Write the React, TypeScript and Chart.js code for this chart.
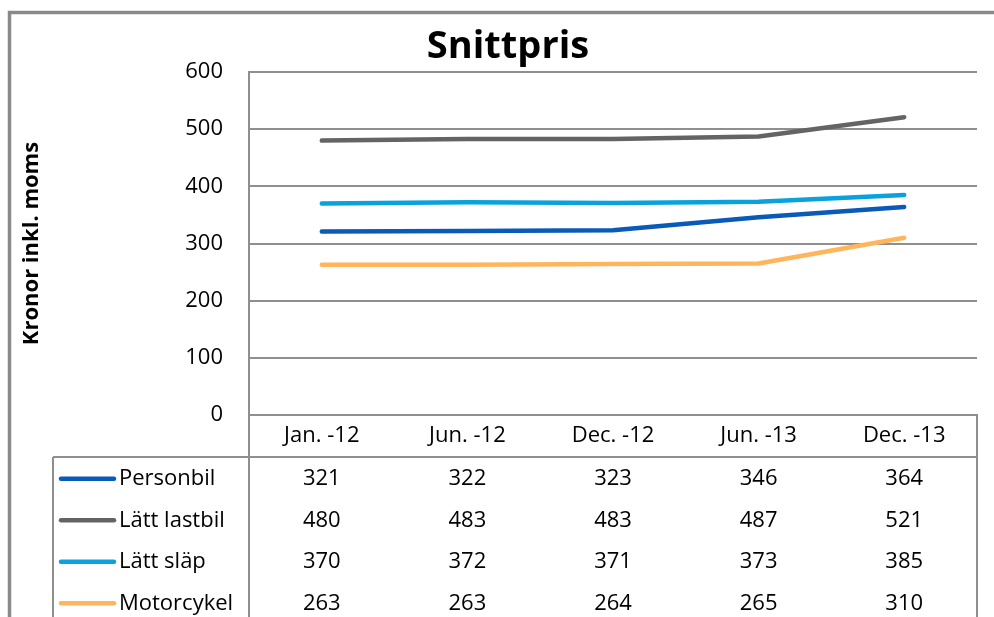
import React, { useEffect, useRef } from "react";
import { Chart, registerables } from "chart.js";

Chart.register(...registerables);

const chartTitle = "Snittpris";
const yAxisTitle = "Kronor inkl. moms";
const categories = ["Jan. -12", "Jun. -12", "Dec. -12", "Jun. -13", "Dec. -13"];
const seriesNames = ["Personbil", "Lätt lastbil", "Lätt släp", "Motorcykel"];
const personbil = [321, 322, 323, 346, 364];
const lattLastbil = [480, 483, 483, 487, 521];
const lattSlap = [370, 372, 371, 373, 385];
const motorcykel = [263, 263, 264, 265, 310];
const seriesColors = ["#0A5AB8", "#646464", "#0AA2DC", "#FFB55C"];
const yTicks = [0, 100, 200, 300, 400, 500, 600];

const FONT = "'Open Sans'";
const GRID = "#8f8f8f";

const tablePlugin = {
  id: "dataTable",
  beforeDraw(chart: any) {
    const ctx = chart.ctx;
    ctx.save();
    ctx.fillStyle = "#ffffff";
    ctx.fillRect(0, 0, chart.width, chart.height);
    ctx.strokeStyle = "#8a8a8a";
    ctx.lineWidth = 3.5;
    ctx.beginPath();
    ctx.moveTo(9.5, chart.height + 5);
    ctx.lineTo(9.5, 12.5);
    ctx.lineTo(chart.width + 5, 12.5);
    ctx.stroke();
    // chart title
    ctx.fillStyle = "#000";
    ctx.font = `bold 38px ${FONT}`;
    ctx.textAlign = "center";
    ctx.textBaseline = "alphabetic";
    ctx.fillText(chartTitle, 508, 58);
    ctx.restore();
  },
  afterDraw(chart: any) {
    const ctx = chart.ctx;
    const area = chart.chartArea;
    const xs = chart.scales.x;
    const headerBottom = xs.bottom;
    const rowH = 41.5;
    const legendLeft = 53;
    const bottom = chart.height + 5;
    const data = chart.data.datasets;
    ctx.save();
    ctx.strokeStyle = GRID;
    ctx.lineWidth = 2;
    ctx.beginPath();
    ctx.moveTo(legendLeft, headerBottom);
    ctx.lineTo(area.right, headerBottom);
    ctx.moveTo(legendLeft, headerBottom);
    ctx.lineTo(legendLeft, bottom);
    ctx.moveTo(area.left, area.bottom);
    ctx.lineTo(area.left, bottom);
    ctx.moveTo(area.right, area.bottom);
    ctx.lineTo(area.right, bottom);
    ctx.stroke();

    ctx.font = `22px ${FONT}`;
    ctx.textBaseline = "middle";
    data.forEach((ds: any, i: number) => {
      const cy = headerBottom + rowH * (i + 0.5) + 1;
      ctx.strokeStyle = ds.borderColor;
      ctx.lineWidth = 4.5;
      ctx.lineCap = "round";
      ctx.beginPath();
      ctx.moveTo(61, cy);
      ctx.lineTo(114, cy);
      ctx.stroke();
      ctx.fillStyle = "#000";
      ctx.textAlign = "left";
      ctx.fillText(ds.label, 119, cy);
      ctx.textAlign = "center";
      ds.data.forEach((v: number, j: number) => {
        ctx.fillText(String(v), xs.getPixelForValue(j), cy);
      });
    });
    ctx.restore();
  },
};

export default function App() {
  const ref = useRef<HTMLCanvasElement>(null);
  useEffect(() => {
    const values = [personbil, lattLastbil, lattSlap, motorcykel];
    const chart = new Chart(ref.current!, {
      type: "line",
      data: {
        labels: categories,
        datasets: values.map((d, i) => ({
          label: seriesNames[i],
          data: d,
          borderColor: seriesColors[i],
          backgroundColor: seriesColors[i],
          borderWidth: 4.5,
          borderCapStyle: "round",
          borderJoinStyle: "round",
          pointRadius: 0,
          tension: 0,
          fill: false,
        })),
      },
      options: {
        responsive: false,
        animation: false,
        layout: { padding: { left: 0, right: 17, top: 72, bottom: 160 } },
        plugins: {
          legend: { display: false },
          tooltip: { enabled: false },
          title: { display: false },
        },
        scales: {
          x: {
            offset: true,
            grid: { display: false, drawTicks: false },
            border: { display: true, color: GRID, width: 2 },
            ticks: { color: "#000", font: { family: FONT, size: 22 }, padding: 8 },
            afterFit: (s: any) => {
              s.height = 42;
            },
          },
          y: {
            min: 0,
            max: 600,
            afterBuildTicks: (s: any) => {
              s.ticks = yTicks.map((v) => ({ value: v }));
            },
            grid: { color: GRID, lineWidth: 2, drawTicks: false },
            border: { display: true, color: GRID, width: 2 },
            ticks: { color: "#000", font: { family: FONT, size: 22 }, padding: 26 },
            title: {
              display: true,
              text: yAxisTitle,
              color: "#000",
              font: { family: FONT, size: 22, weight: "bold" },
              padding: { top: 19, bottom: 0 },
            },
            afterFit: (s: any) => {
              s.width = 249;
            },
          },
        },
      },
      plugins: [tablePlugin],
    } as any);
    return () => chart.destroy();
  }, []);
  return (
    <div
      style={{
        position: "fixed",
        left: 0,
        top: 0,
        width: 994,
        height: 617,
        overflow: "hidden",
        background: "#fff",
      }}
    >
      <canvas ref={ref} width={994} height={617} style={{ display: "block" }} />
    </div>
  );
}
